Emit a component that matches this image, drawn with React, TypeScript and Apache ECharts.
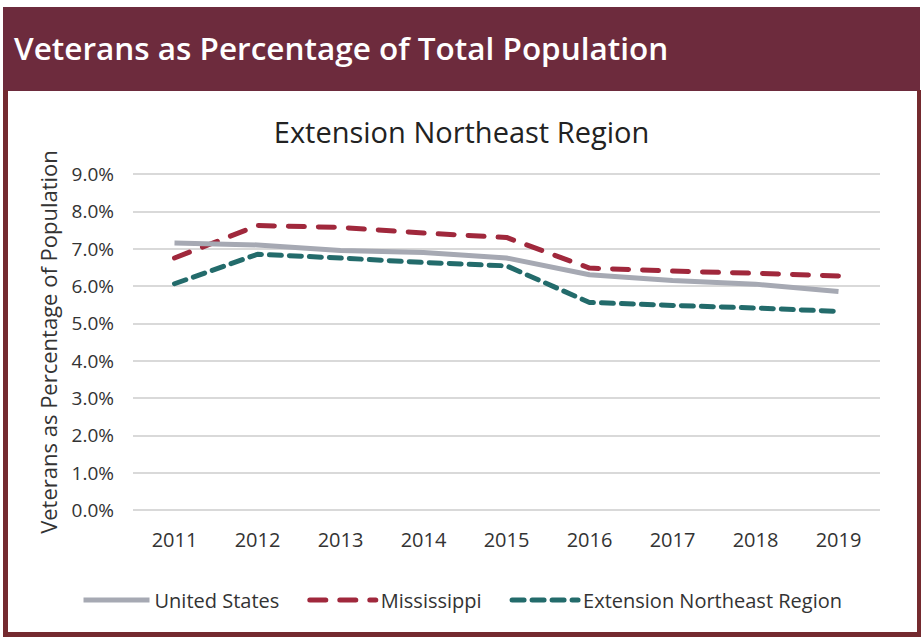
import React, { useEffect, useRef } from "react";
import * as echarts from "echarts";

const years = ["2011", "2012", "2013", "2014", "2015", "2016", "2017", "2018", "2019"];
const unitedStates = [7.15, 7.1, 6.95, 6.9, 6.75, 6.3, 6.15, 6.05, 5.85];
const mississippi = [6.75, 7.62, 7.57, 7.42, 7.3, 6.48, 6.4, 6.34, 6.27];
const northeast = [6.06, 6.85, 6.75, 6.63, 6.54, 5.56, 5.48, 5.41, 5.32];

const MAROON = "#6d2b3d";
const FONT = "'Open Sans', 'Noto Sans', sans-serif";

export default function App() {
  const ref = useRef<HTMLDivElement>(null);
  useEffect(() => {
    if (!ref.current) return;
    const chart = echarts.init(ref.current, undefined, { renderer: "svg" });
    chart.setOption({
      animation: false,
      backgroundColor: "#ffffff",
      graphic: [
        { type: "rect", shape: { x: 3, y: 7, width: 917, height: 84 }, style: { fill: MAROON }, z: -10 },
        { type: "rect", shape: { x: 3, y: 90, width: 5, height: 547 }, style: { fill: "#742a2f" }, z: -10 },
        { type: "rect", shape: { x: 917, y: 90, width: 4, height: 547 }, style: { fill: "#742a2f" }, z: -10 },
        { type: "rect", shape: { x: 3, y: 632, width: 918, height: 5 }, style: { fill: "#742a2f" }, z: -10 },
        {
          type: "text",
          left: 14,
          top: 31,
          style: { text: "Veterans as Percentage of Total Population", fill: "#ffffff", font: `600 31.5px ${FONT}` },
        },
      ],
      title: {
        text: "Extension Northeast Region",
        left: "center",
        top: 112,
        textStyle: { fontFamily: FONT, fontSize: 29, fontWeight: "normal", color: "#222" },
      },
      grid: { left: 133, right: 43, top: 174, bottom: 130 },
      legend: {
        bottom: 25,
        left: "center",
        itemWidth: 66,
        itemHeight: 10,
        itemGap: 28,
        itemStyle: { opacity: 0 },
        lineStyle: { width: 5 },
        textStyle: { fontFamily: FONT, fontSize: 20, color: "#333", padding: [0, 0, 0, 0] },
        data: ["United States", "Mississippi", "Extension Northeast Region"],
      },
      xAxis: {
        type: "category",
        data: years,
        axisLine: { show: false },
        axisTick: { show: false },
        axisLabel: { fontFamily: FONT, fontSize: 20, color: "#333", margin: 19 },
      },
      yAxis: {
        type: "value",
        min: 0,
        max: 9,
        interval: 1,
        name: "Veterans as Percentage of Population",
        nameLocation: "middle",
        nameGap: 74,
        nameTextStyle: { fontFamily: FONT, fontSize: 22, color: "#333" },
        axisLabel: {
          fontFamily: FONT,
          fontSize: 19,
          color: "#333",
          margin: 19,
          formatter: (v: number) => v.toFixed(1) + "%",
        },
        splitLine: { lineStyle: { color: "#d9d9d9", width: 2 } },
      },
      series: [
        {
          name: "United States",
          type: "line",
          data: unitedStates,
          symbol: "none",
          lineStyle: { color: "#a6a9b3", width: 5 },
          itemStyle: { color: "#a6a9b3" },
          z: 3,
        },
        {
          name: "Mississippi",
          type: "line",
          data: mississippi,
          symbol: "none",
          lineStyle: { color: "#a0283c", width: 5, type: [16, 14], cap: "round" },
          itemStyle: { color: "#a0283c" },
          z: 2,
        },
        {
          name: "Extension Northeast Region",
          type: "line",
          data: northeast,
          symbol: "none",
          lineStyle: { color: "#236b6b", width: 5, type: [12, 8], cap: "round" },
          itemStyle: { color: "#236b6b" },
          z: 2,
        },
      ],
    });
    return () => chart.dispose();
  }, []);
  return (
    <div
      ref={ref}
      style={{ position: "absolute", left: 0, top: 0, width: 923, height: 640 }}
    />
  );
}
